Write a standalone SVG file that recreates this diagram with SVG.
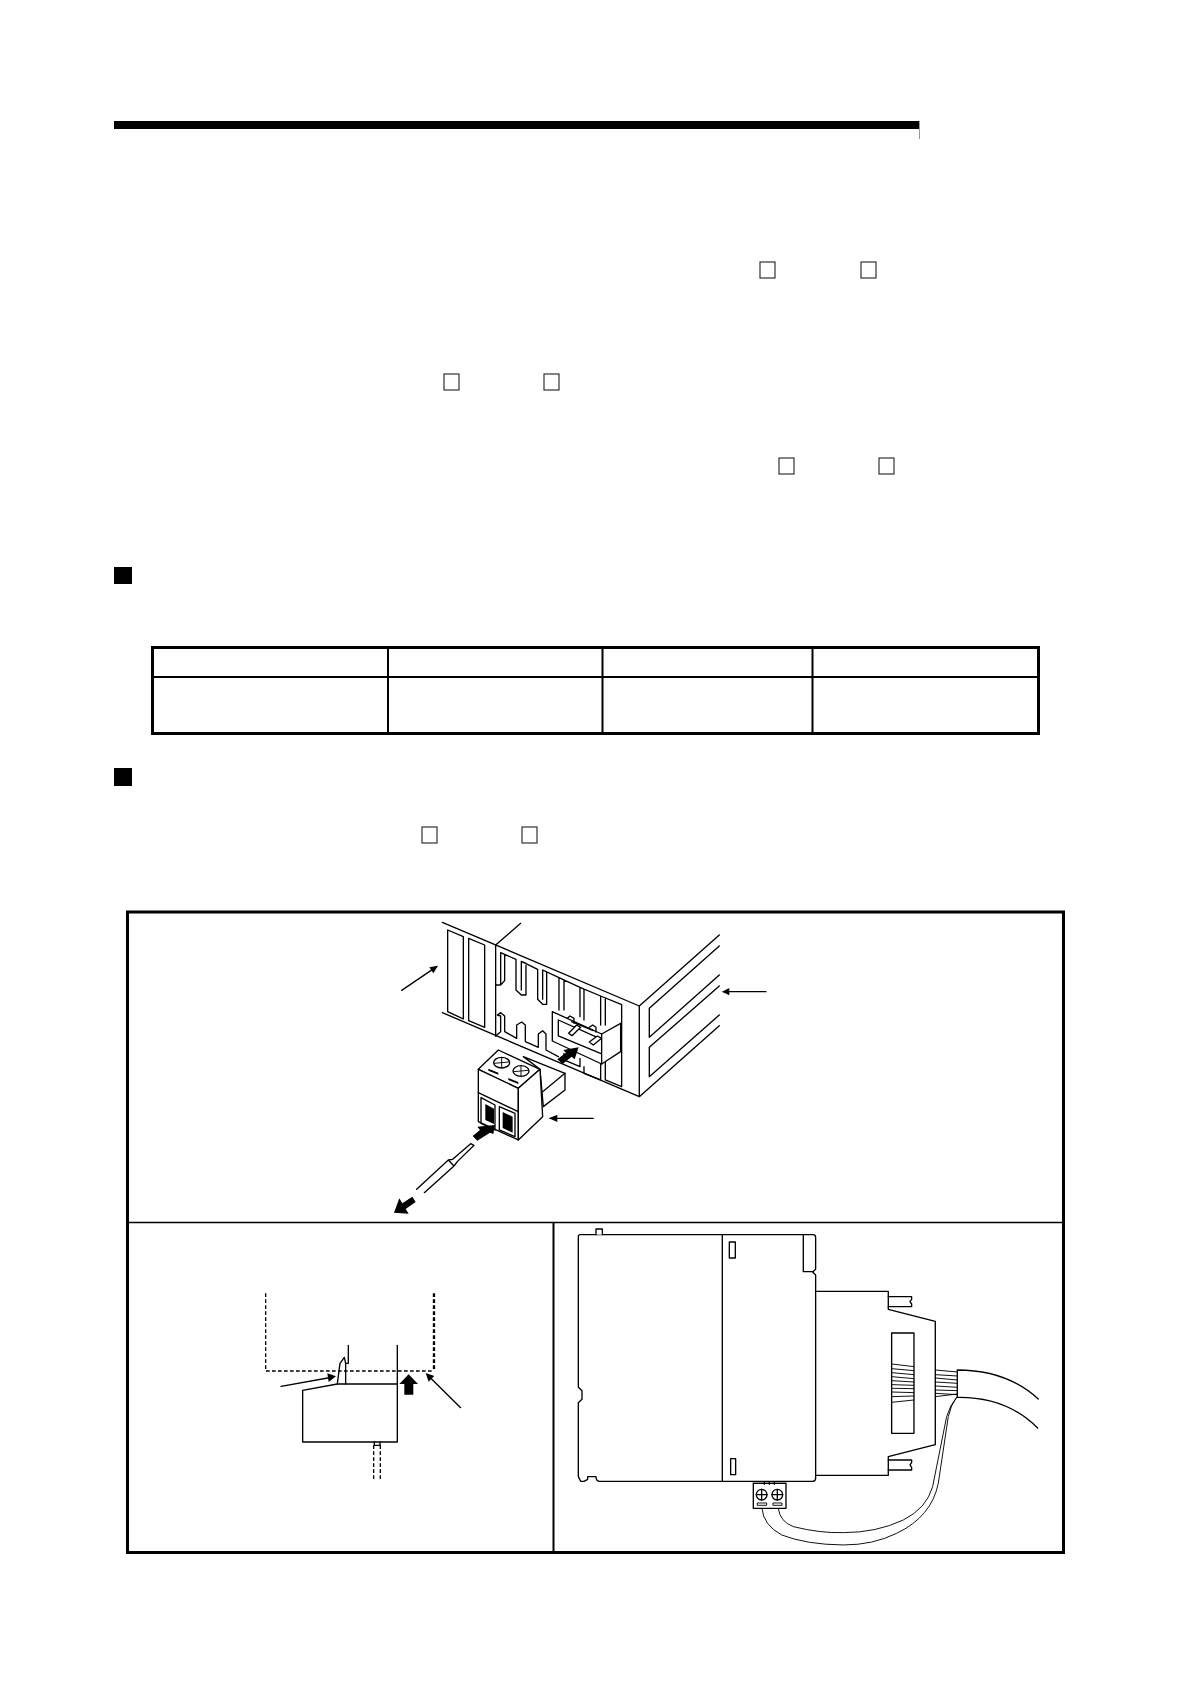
<svg xmlns="http://www.w3.org/2000/svg" width="1190" height="1684" viewBox="0 0 1190 1684">
<style>
.l{fill:none;stroke:#000;stroke-width:4;stroke-linejoin:round;stroke-linecap:round}
.t{stroke-width:2.8}
.w{fill:#fff}
.k{fill:#000;stroke:none}
.box{fill:#fff;stroke:#333;stroke-width:1.2}
.d{stroke-dasharray:11 7;stroke-linecap:butt}
</style>
<rect width="1190" height="1684" fill="#fff"/>
<g id="page-rule"><rect x="114" y="121" width="805" height="8" class="k"/><path d="M919.500 121V139" stroke="#999" stroke-width="1"/></g>
<g id="placeholders">
<rect x="760" y="262" width="15" height="16" class="box"/><rect x="861" y="262" width="15" height="16" class="box"/>
<rect x="444" y="374" width="15" height="16" class="box"/><rect x="544" y="374" width="15" height="16" class="box"/>
<rect x="779" y="458" width="15" height="16" class="box"/><rect x="879" y="458" width="15" height="16" class="box"/>
<rect x="422" y="827" width="15" height="16" class="box"/><rect x="522" y="827" width="15" height="16" class="box"/>
</g>
<g id="bullets"><rect x="114" y="567" width="18" height="17" class="k"/><rect x="114" y="768" width="18" height="18" class="k"/></g>
<g id="table" fill="none" stroke="#000">
<rect x="152.500" y="647.500" width="886" height="86" stroke-width="3"/>
<path d="M152 677H1039" stroke-width="2"/>
<path d="M388 647V733M602.500 647V733M812.500 647V733" stroke-width="2"/>
</g>
<g id="frame" fill="none" stroke="#000">
<rect x="127.500" y="912" width="936" height="640.500" stroke-width="3"/>
<path d="M127 1222.500H1064" stroke-width="1.300"/>
<path d="M553.500 1222V1552" stroke-width="2"/>
</g>
<g id="module-view" transform="translate(380 910) scale(.3333)">
<path class="l" d="M187 37L778 288V560L187 308M347 105L422 40M347 105V378"/>
<path class="l" d="M778 288L1018 75M778 560L1018 347M808 295L1018 108M808 295V382L1018 195M808 412L1018 228M808 412V500L1018 315"/>
<path class="l" d="M203 60L250 80V327L203 305ZM266 85L314 105V352L266 332Z"/>
<path class="l" d="M362 128V225H347M374 133V212L362 225M362 128L408 148V240L424 255H438V160L424 154V240M424 154L473 178V268L488 283H500V186L488 180V268M488 180L537 203V300M552 210V300M537 203L600 232V320M612 237V330M600 232L662 258V345M676 264V345M662 258L725 284V530L676 510V455M612 470V490L662 510V450M552 430V450L600 470V445"/>
<path class="l" d="M362 365V318L352 315L362 308L374 318V365L410 385V345L425 336L436 345V395L475 412V372L488 362L498 372V420L535 440M347 378L362 365"/>
<path class="l w" d="M517 305L665 372L722 340V425L665 462L517 393Z"/>
<path class="l" d="M665 372V462M535 330L665 388M535 330V378L665 432M535 378"/>
<path class="l w" d="M566 370L590 345L602 352L576 377ZM628 396L652 378L665 385L640 405Z"/>
<path class="l" d="M575 335L640 362M562 325L570 318L582 325V340M628 352L638 345L648 352V366"/>
<path class="k" d="M532 448L558 428L550 420L596 412L584 448L575 440L548 462Z"/>
<path class="l w" d="M430 440L555 490V540L490 590L480 478Z"/>
<path class="l" d="M488 545L555 490"/>
<path class="l w" d="M295 478L355 420L480 478L415 535Z"/>
<path class="l w" d="M295 478L415 535V690L295 635Z"/>
<path class="l w" d="M415 535L480 478L488 620L415 690Z"/>
<path class="l" d="M295 548L415 605"/>
<ellipse cx="365" cy="458" rx="24" ry="16" class="l"/><ellipse cx="423" cy="483" rx="24" ry="16" class="l"/>
<path class="l t" d="M343 460L387 456M365 444V472M401 485L445 481M423 469V497"/>
<path class="k" d="M325 476L355 488V494L325 482ZM385 504L415 516V522L385 510Z"/>
<path class="l" d="M303 563L345 585V660L303 640ZM358 590L405 610V680L358 660Z"/>
<path class="k" d="M316 582L342 596V642L316 630ZM368 606L398 620V668L368 654Z"/>
<path class="k" d="M278 678L300 660L292 650L345 645L340 672L330 668L292 692Z"/>
<path class="l" d="M510 625H640"/><path class="k" d="M507 625L532 614V636Z"/>
<path class="l" d="M1030 245H1158"/><path class="k" d="M1026 245L1048 234V256Z"/>
<path class="l" d="M65 241L170 170"/><path class="k" d="M174 167L160 190L148 172Z"/>
<path class="l" d="M218 748L272 701L282 706L232 755M205 750L218 748M232 755L222 768M205 750L110 838M222 768L133 848M205 750L222 768"/>
<path class="k" d="M97 860L107 876L77 897L86 911L42 908L58 865L67 880Z"/>
</g>
<g id="detail-view" transform="translate(230 1270) scale(.3333)">
<path class="l d" d="M107 70V303H612"/><path class="l d" d="M612 70V303" style="stroke-width:7"/>
<path class="l" d="M355 226V280H347L343 262L330 280L322 342M347 280V342"/>
<path class="l" d="M502 226V342"/>
<path class="l" d="M218 361L322 342H502V516H218Z"/>
<path class="l" d="M433 516V526H450V516M431 526H451"/>
<path class="l d" d="M431 526V634M451 526V634"/>
<path class="l" d="M153 349L310 321"/><path class="k" d="M318 319L292 310L296 336Z"/>
<path class="k" d="M508 342L536 313L564 342H550V374H523V342Z"/>
<path class="l" d="M692 413L595 317"/><path class="k" d="M587 309L596 335L613 318Z"/>
</g>
<g id="side-view" transform="translate(560 1220) scale(.3333)">
<path class="l" d="M55 50Q55 44 61 44H758Q767 44 767 52V148L758 156L767 165V775Q767 784 758 784H120Q108 784 108 770H83V778L72 784H62L55 770V548L66 538V512L55 502Z"/>
<path class="l" d="M487 45V784M730 45V155H760"/>
<path class="l w" d="M108 44V27H127V44"/>
<rect x="508" y="66" width="18" height="48" class="l"/><rect x="512" y="716" width="15" height="48" class="l"/>
<path class="l" d="M767 214H985V268L1126 304V674L985 710V766H767"/>
<path class="l" d="M985 230H1055V238L1050 245L1055 252V260H985M985 720H1055V728L1050 735L1055 742V750H985"/>
<rect x="995" y="339" width="67" height="301" class="l"/>
<path class="l t" d="M995 432L1062 440M995 446L1062 452M995 458L1062 464M995 470L1062 476M995 482L1062 486M995 494L1062 496M995 505L1062 506M995 516L1062 518M995 530L1062 528M995 547L1062 540"/>
<path class="l t" d="M1126 450L1192 456M1126 464L1192 468M1126 474L1192 480M1126 486L1192 490M1126 498L1192 502M1126 510L1192 512M1126 520L1192 524M1126 530L1192 522"/>
<path class="l" d="M1192 450V532M1192 450Q1340 450 1435 537M1192 532Q1340 530 1433 624"/>
<path class="l" d="M578 785H680M613 785V793M628 785V793M643 785V793"/>
<rect x="580" y="790" width="98" height="75" class="l"/>
<circle cx="605" cy="824" r="16" class="l"/><circle cx="652" cy="824" r="16" class="l"/>
<path class="l" d="M589 824H621M605 808V840M636 824H668M652 808V840"/>
<rect x="593" y="849" width="27" height="7" class="l t"/><rect x="640" y="849" width="26" height="7" class="l t"/>
<path class="l t" d="M655 866Q660 905 700 920Q780 940 850 938Q950 938 1030 900Q1100 865 1118 800L1160 590Q1170 555 1190 532"/>
<path class="l t" d="M606 866Q610 915 665 945Q740 974 850 975Q940 975 1010 940Q1115 890 1135 790L1165 590Q1172 555 1190 532"/>
</g>
</svg>
